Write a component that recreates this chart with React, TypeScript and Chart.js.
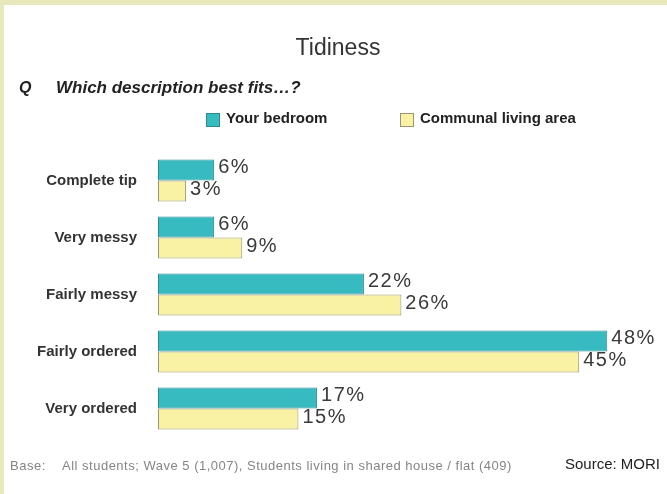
import React, { useEffect, useRef } from "react";
import { Chart, registerables } from "chart.js";

Chart.register(...registerables);

const categories = ["Complete tip", "Very messy", "Fairly messy", "Fairly ordered", "Very ordered"];
const bedroomValues = [6, 6, 22, 48, 17];
const communalValues = [3, 9, 26, 45, 15];
const seriesNames = ["Your bedroom", "Communal living area"];
const titleText = "Tidiness";
const questionLabel = "Q";
const questionText = "Which description best fits…?";
const baseLabel = "Base:";
const baseText = "All students; Wave 5 (1,007), Students living in shared house / flat (409)";
const sourceText = "Source: MORI";

const TEAL = "#38bac1";
const TEAL_BORDER = "#2a8c90";
const YELLOW = "#f9f1a4";
const YELLOW_BORDER = "#9c9670";
const FRAME = "#e7e9bd";
const FONT = "'Liberation Sans', Arial, Helvetica, sans-serif";

const decorPlugin = {
  id: "decor",
  beforeDraw(chart: any) {
    const ctx = chart.ctx;
    ctx.save();
    ctx.fillStyle = "#ffffff";
    ctx.fillRect(0, 0, chart.width, chart.height);
    ctx.fillStyle = FRAME;
    ctx.fillRect(0, 0, chart.width, 5);
    ctx.fillRect(0, 0, 4, chart.height);
    ctx.restore();
  },
  afterDraw(chart: any) {
    const ctx = chart.ctx;
    ctx.save();
    // title
    ctx.fillStyle = "#333333";
    ctx.font = `23px ${FONT}`;
    ctx.textAlign = "center";
    ctx.textBaseline = "alphabetic";
    ctx.fillText(titleText, 338, 55);
    // question
    ctx.fillStyle = "#222222";
    ctx.textAlign = "left";
    ctx.font = `italic bold 16px ${FONT}`;
    ctx.fillText(questionLabel, 19, 93);
    ctx.font = `italic bold 17px ${FONT}`;
    ctx.fillText(questionText, 56, 93);
    // legend
    const items = [
      { x: 206, color: TEAL, border: TEAL_BORDER, label: seriesNames[0] },
      { x: 400, color: YELLOW, border: YELLOW_BORDER, label: seriesNames[1] },
    ];
    ctx.font = `bold 15px ${FONT}`;
    ctx.textBaseline = "middle";
    for (const it of items) {
      ctx.fillStyle = it.color;
      ctx.fillRect(it.x, 113, 14, 14);
      ctx.strokeStyle = it.border;
      ctx.lineWidth = 1;
      ctx.strokeRect(it.x + 0.5, 113.5, 13, 13);
      ctx.fillStyle = "#222222";
      ctx.fillText(it.label, it.x + 20, 119);
    }
    // footer
    ctx.fillStyle = "#858585";
    ctx.font = `13px ${FONT}`;
    try { ctx.letterSpacing = "0.5px"; } catch (e) {}
    ctx.fillText(baseLabel, 10, 466);
    ctx.fillText(baseText, 62, 466);
    try { ctx.letterSpacing = "0px"; } catch (e) {}
    ctx.fillStyle = "#222222";
    ctx.font = `15px ${FONT}`;
    ctx.fillText(sourceText, 565, 465);
    ctx.restore();
  },
  afterDatasetsDraw(chart: any) {
    const ctx = chart.ctx;
    ctx.save();
    ctx.fillStyle = "#3a3a3a";
    ctx.font = `20px ${FONT}`;
    try { ctx.letterSpacing = "1.5px"; } catch (e) {}
    ctx.textAlign = "left";
    ctx.textBaseline = "middle";
    chart.data.datasets.forEach((ds: any, di: number) => {
      const meta = chart.getDatasetMeta(di);
      meta.data.forEach((el: any, i: number) => {
        ctx.fillText(`${ds.data[i]}%`, el.x + 4, el.y - 2);
      });
    });
    try { ctx.letterSpacing = "0px"; } catch (e) {}
    ctx.restore();
  },
};

export default function App() {
  const ref = useRef<HTMLCanvasElement | null>(null);
  useEffect(() => {
    if (!ref.current) return;
    const chart = new Chart(ref.current, {
      type: "bar",
      data: {
        labels: categories,
        datasets: [
          {
            label: seriesNames[0],
            data: bedroomValues,
            backgroundColor: TEAL,
            borderColor: TEAL_BORDER,
            borderWidth: 1,
            borderSkipped: false,
            categoryPercentage: 0.74,
            barPercentage: 1.0,
          },
          {
            label: seriesNames[1],
            data: communalValues,
            backgroundColor: YELLOW,
            borderColor: YELLOW_BORDER,
            borderWidth: 1,
            borderSkipped: false,
            categoryPercentage: 0.74,
            barPercentage: 1.0,
          },
        ],
      },
      options: {
        indexAxis: "y",
        responsive: false,
        animation: false,
        layout: { padding: { top: 152, bottom: 57, left: 0, right: 41 } },
        plugins: {
          legend: { display: false },
          title: { display: false },
          tooltip: { enabled: false },
        },
        scales: {
          x: { display: false, min: 0, max: 50 },
          y: {
            grid: { display: false, drawTicks: false },
            border: { display: false },
            ticks: {
              padding: 21,
              color: "#333333",
              font: { family: FONT, size: 15, weight: "bold" },
            },
            afterFit(scale: any) {
              scale.width = 158;
            },
          },
        },
      },
      plugins: [decorPlugin],
    } as any);
    return () => chart.destroy();
  }, []);
  return (
    <div style={{ position: "absolute", left: 0, top: 0, width: 667, height: 494 }}>
      <canvas ref={ref} width={667} height={494} style={{ width: 667, height: 494, display: "block" }} />
    </div>
  );
}
